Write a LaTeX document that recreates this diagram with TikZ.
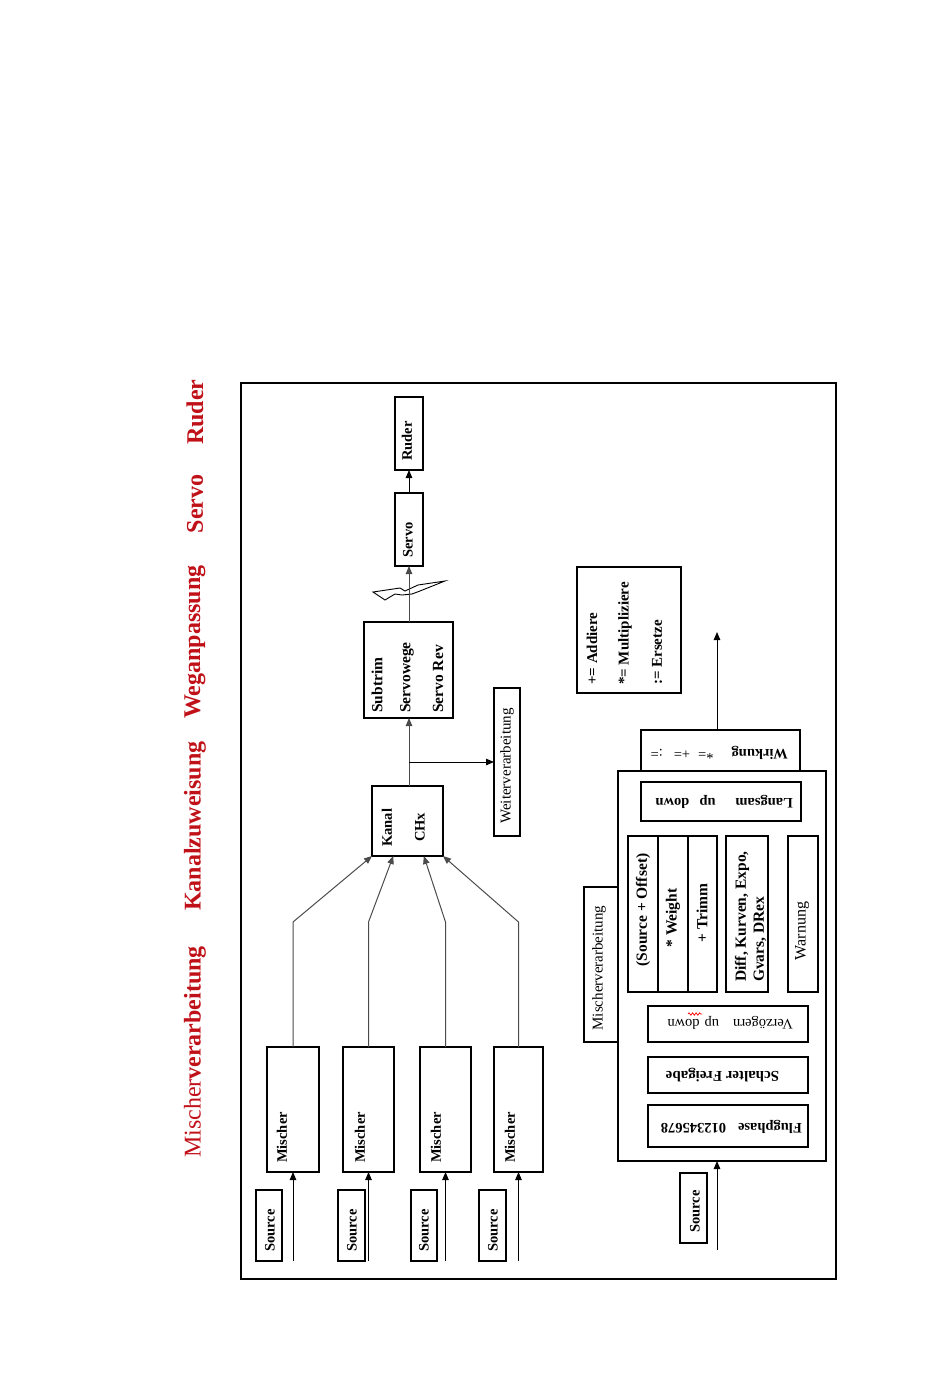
\documentclass[tikz,border=0pt]{standalone}
\usepackage{fontspec}
\setmainfont{Liberation Serif}
\usetikzlibrary{arrows.meta,calc,decorations.pathmorphing}
\definecolor{titlered}{RGB}{192,16,24}
\definecolor{wiregray}{RGB}{75,75,75}
\begin{document}
\begin{tikzpicture}[x=1pt,y=-1pt,
  blk/.style={draw, line width=1.1pt, inner sep=0pt, outer sep=0pt},
  txt/.style={inner sep=0pt, font=\fontsize{14.5}{17}\selectfont},
  btxt/.style={inner sep=0pt, font=\fontsize{14.5}{17}\selectfont\bfseries},
  ttl/.style={inner sep=0pt, text=titlered, font=\fontsize{24}{28}\selectfont\bfseries, rotate=90},
  vtext/.style={rotate=90, anchor=west},
  flipped/.style={rotate=180, anchor=west},
  arr/.style={-{Triangle[length=8pt,width=6.5pt]}, line width=1pt},
  wire/.style={line width=1pt, draw=wiregray}]
\path[use as bounding box] (0,0) rectangle (950,1398);

% titles
\node[ttl] (tRuder) at (195,412) {Ruder};
\node[ttl] (tServo) at (195,504) {Servo};
\node[ttl] (tWeg) at (195,642) {Weganpassung};
\node[ttl] (tKanal) at (195,826) {Kanalzuweisung};
\node[ttl] (tMisch) at (195,1052) {\mdseries Mischer\bfseries verarbeitung};

% frame
\draw[line width=1.1pt] (241,383) rectangle (836,1279);

% signal chain boxes
\node[blk, minimum width=28, minimum height=73] (ruder) at (409,433.5) {};
\node[btxt, rotate=90] at (407,441) {Ruder};
\node[blk, minimum width=28, minimum height=73] (servo) at (409,529.5) {};
\node[btxt, rotate=90] at (408,540) {Servo};
\node[blk, minimum width=89, minimum height=96] (subtrim) at (408.5,670) {};
\node[btxt, vtext, font=\fontsize{15.5}{17}\selectfont\bfseries] at (377,713) {Subtrim};
\node[btxt, vtext, font=\fontsize{15.5}{17}\selectfont\bfseries] at (407,713) {Servowege};
\node[btxt, vtext, font=\fontsize{15.5}{17}\selectfont\bfseries] at (438,713) {Servo Rev};
\node[blk, minimum width=71, minimum height=70] (kanal) at (407.5,821) {};
\node[btxt, vtext] at (387,847) {Kanal};
\node[btxt, vtext] at (420,842) {CHx};
\node[blk, minimum width=26, minimum height=148] (weiter) at (507,762) {};
\node[txt, rotate=90, font=\fontsize{15}{17}\selectfont] at (507,766) {Weiterverarbeitung};

% mixers and sources
\foreach \n/\cx/\w/\tx in {1/293/52/282, 2/368.5/51/360, 3/445.5/51/436, 4/518.5/49/510}{
  \node[blk, minimum width=\w, minimum height=125] (mix\n) at (\cx,1109.5) {};
  \draw[line width=2.2pt] (mix\n.north west) -- (mix\n.north east);
  \node[btxt, vtext] at (\tx,1163) {Mischer};
}
\foreach \n/\cx/\w/\tx in {1/269/26/270, 2/351.5/27/352, 3/424/26/424, 4/492.5/27/493}{
  \node[blk, minimum width=\w, minimum height=71] (src\n) at (\cx,1225.5) {};
  \node[btxt, vtext] at (\tx,1252) {Source};
  \draw[arr] (src\n.south -| mix\n.south) -- (mix\n.south);
}

% mixer -> kanal
\coordinate (bend) at (0,922);
\draw[wire, arr] (mix1.north) -- (mix1.north |- bend) -- (kanal.south west);
\draw[wire, arr] (mix2.north) -- (mix2.north |- bend) -- ($(kanal.south west)!0.3!(kanal.south east)$);
\draw[wire, arr] (mix3.north) -- (mix3.north |- bend) -- ($(kanal.south west)!0.73!(kanal.south east)$);
\draw[wire, arr] (mix4.north) -- (mix4.north |- bend) -- (kanal.south east);

% kanal -> subtrim -> servo -> ruder
\draw[wire, arr] (servo.south |- kanal.north) -- (servo.south |- subtrim.south);
\draw[arr] (servo.south |- weiter.west) -- (weiter.west);
\draw[line width=0.9pt, fill=white] (373,592) -- (400,588) -- (405,591) -- (418,585) -- (445,581)
  -- (420,591) -- (412,594) -- (402,595) -- (395,594) -- (385,600) -- cycle;
\draw[wire, arr] (servo.south |- subtrim.north) -- (servo.south);
\draw[arr] (servo.north) -- (ruder.south);

% legend
\node[blk, minimum width=104, minimum height=126] (legend) at (629,630) {};
\node[btxt, vtext, font=\fontsize{15}{17}\selectfont\bfseries] at (592,685) {+= Addiere};
\node[btxt, vtext, font=\fontsize{15}{17}\selectfont\bfseries] at (625,685) {*= Multipliziere};
\node[btxt, vtext, font=\fontsize{15}{17}\selectfont\bfseries] at (657,685) {:= Ersetze};

% Wirkung
\node[blk, minimum width=159, minimum height=41] (wirk) at (720.5,750.5) {};
\node[txt, flipped] at (788,753) {\textbf{Wirkung}\hspace{18pt}*=\hspace{8pt}+=\hspace{11pt}:=};
\coordinate (outW) at (717,632);
\draw[arr] (outW |- wirk.north) -- (outW);

% Mischerverarbeitung block
\node[blk, minimum width=208, minimum height=390] (mv) at (722,966) {};
\draw[line width=2.2pt] (mv.north east) -- (mv.south east);
\node[blk, minimum width=34, minimum height=155] (mvlabel) at (601,964.5) {};
\node[txt, rotate=90, font=\fontsize{15}{17}\selectfont] at (599,968) {Mischerverarbeitung};

\node[blk, minimum width=160, minimum height=39] (langsam) at (721,801.5) {};
\draw[line width=2.2pt] (langsam.north west) -- (langsam.north east);
\node[btxt, flipped] at (793,802) {Langsam\hspace{20pt}up\hspace{10pt}down};

\node[blk, minimum width=30, minimum height=156] (col1) at (643,914) {};
\node[blk, minimum width=30, minimum height=156] (col2) at (673,914) {};
\node[blk, minimum width=29, minimum height=156] (col3) at (702.5,914) {};
\node[btxt, rotate=90, font=\fontsize{15.5}{17}\selectfont\bfseries] at (643,910) {(Source + Offset)};
\node[btxt, rotate=90, font=\fontsize{15.5}{17}\selectfont\bfseries] at (673,918) {* Weight};
\node[btxt, rotate=90, font=\fontsize{15.5}{17}\selectfont\bfseries] at (702,913) {+ Trimm};

\node[blk, minimum width=42, minimum height=156] (diff) at (747,914) {};
\node[btxt, vtext, font=\fontsize{15.5}{17}\selectfont\bfseries] at (742,982) {Diff, Kurven, Expo,};
\node[btxt, vtext, font=\fontsize{15.5}{17}\selectfont\bfseries] at (760,982) {Gvars, DRex};

\node[blk, minimum width=30, minimum height=156] (warn) at (803,914) {};
\node[txt, rotate=90, font=\fontsize{16}{18}\selectfont] at (802,931) {Warnung};

\node[blk, minimum width=160, minimum height=36] (verz) at (728,1024) {};
\node[txt, flipped] at (793,1023) {Verzögern\hspace{14pt}up\hspace{5pt}down};
\draw[red, line width=0.7pt, decorate, decoration={snake, amplitude=1.2pt, segment length=3.5pt}] (688,1014) -- (702,1014);

\node[blk, minimum width=160, minimum height=36] (schalt) at (728,1075) {};
\node[btxt, rotate=180, font=\fontsize{15}{17}\selectfont\bfseries] at (722.5,1075) {Schalter Freigabe};

\node[blk, minimum width=160, minimum height=42] (flug) at (728,1126) {};
\node[btxt, flipped] at (802,1127) {Flugphase\hspace{12pt}012345678};

% source into Mischerverarbeitung
\node[blk, minimum width=27, minimum height=70] (srcR) at (693.5,1208) {};
\node[btxt, vtext] at (695,1233) {Source};
\coordinate (inR) at (717,1250);
\draw[arr] (inR) -- (inR |- mv.south);
\end{tikzpicture}
\end{document}
